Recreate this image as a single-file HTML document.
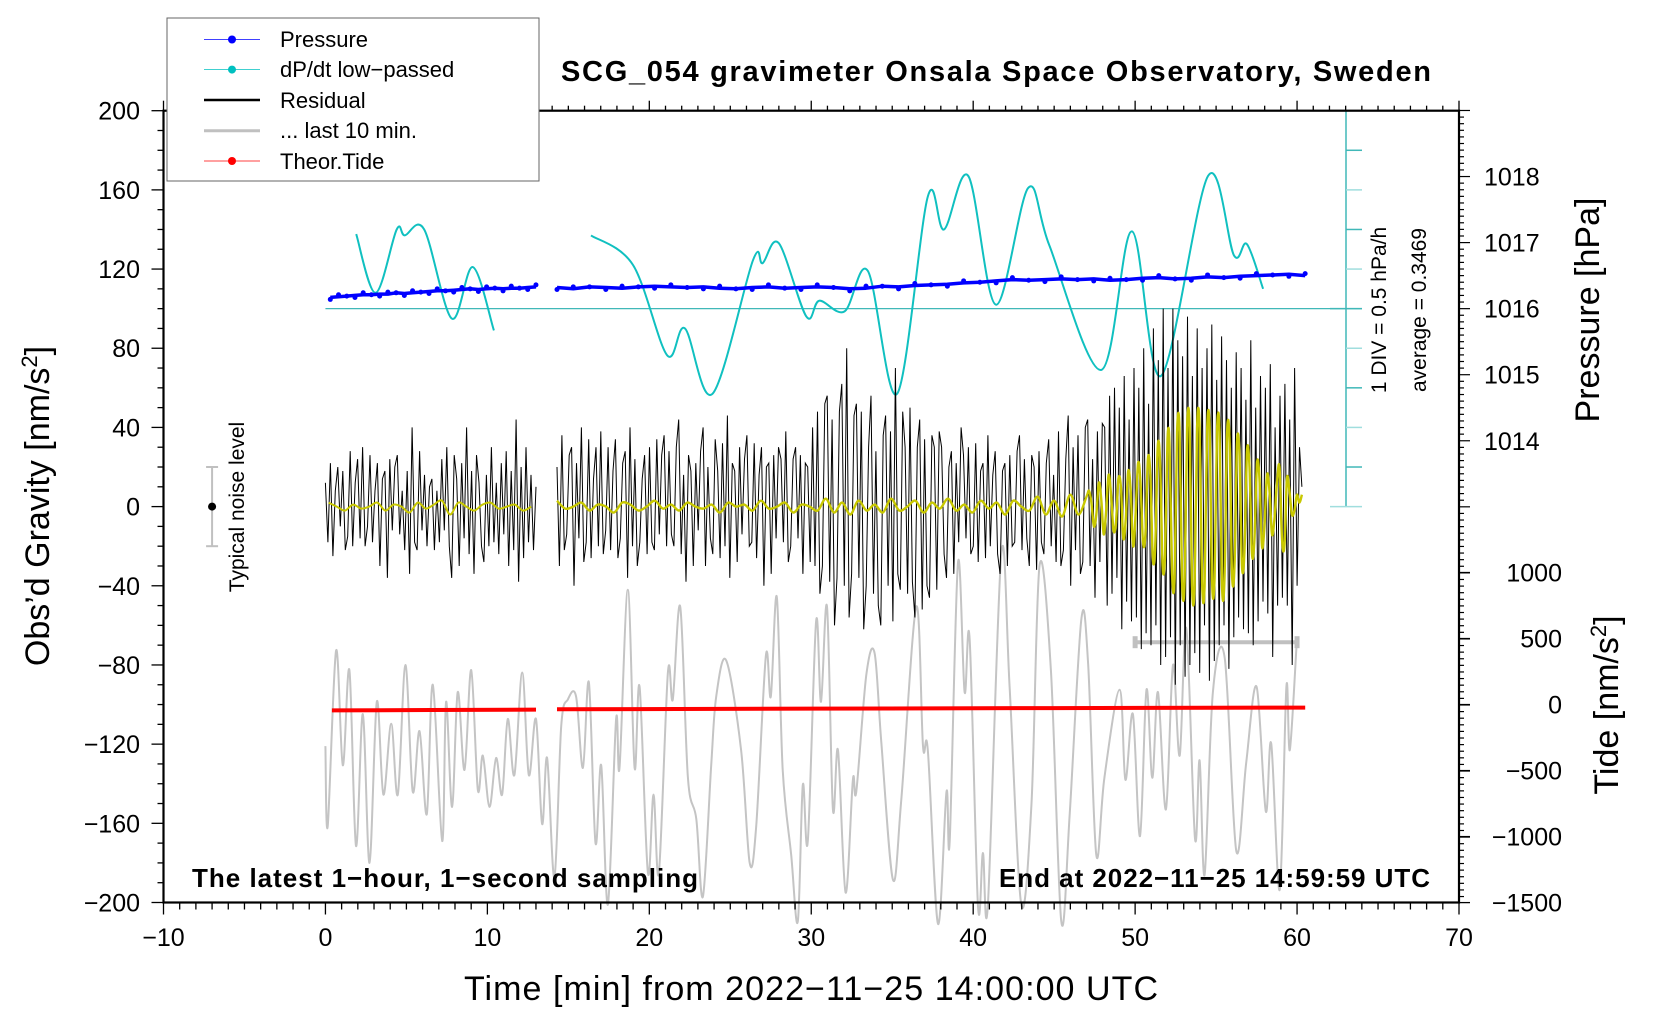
<!DOCTYPE html>
<html><head><meta charset="utf-8"><title>SCG_054 gravimeter</title>
<style>html,body{margin:0;padding:0;background:#fff}svg{display:block;font-family:"Liberation Sans",Arial,sans-serif}</style>
</head><body>
<svg id="chart" xmlns="http://www.w3.org/2000/svg" width="1660" height="1020" viewBox="0 0 1660 1020">
<rect width="1660" height="1020" fill="#fff"/>
<g id="marks"></g>
<g id="axes"></g>
<g id="texts">
<text x="996" y="81" font-size="29" font-weight="bold" text-anchor="middle" textLength="870">SCG_054 gravimeter Onsala Space Observatory, Sweden</text>
<text x="192" y="887" font-size="26" font-weight="bold" textLength="506">The latest 1−hour, 1−second sampling</text>
<text x="1430" y="887" font-size="26" font-weight="bold" text-anchor="end" textLength="431">End at 2022−11−25 14:59:59 UTC</text>
<text x="811" y="1000" font-size="34" text-anchor="middle" textLength="694">Time [min] from 2022−11−25 14:00:00 UTC</text>
<text transform="translate(49,506) rotate(-90)" font-size="34" text-anchor="middle">Obs’d Gravity [nm/s<tspan dy="-12" font-size="22">2</tspan><tspan dy="12">]</tspan></text>
<text transform="translate(1599,310) rotate(-90)" font-size="34" text-anchor="middle">Pressure [hPa]</text>
<text transform="translate(1618,705) rotate(-90)" font-size="34" text-anchor="middle">Tide [nm/s<tspan dy="-12" font-size="22">2</tspan><tspan dy="12">]</tspan></text>
<text transform="translate(1386,310) rotate(-90)" font-size="21" text-anchor="middle">1 DIV = 0.5 hPa/h</text>
<text transform="translate(1426,310) rotate(-90)" font-size="21" text-anchor="middle">average = 0.3469</text>
<text transform="translate(244,507) rotate(-90)" font-size="21" text-anchor="middle">Typical noise level</text>
</g>
<g id="legend">
<rect x="167" y="18" width="372" height="163" fill="#fff" stroke="#666" stroke-width="1"/>
<g><line x1="204" y1="39.5" x2="260" y2="39.5" stroke="#00f" stroke-width="0.8"/><circle cx="232" cy="39.5" r="4" fill="#00f"/><text x="280" y="47" font-size="22">Pressure</text></g>
<g><line x1="204" y1="69.6" x2="260" y2="69.6" stroke="#00c0c0" stroke-width="0.8"/><circle cx="232" cy="69.6" r="4" fill="#00c0c0"/><text x="280" y="77" font-size="22">dP/dt low−passed</text></g>
<g><line x1="204" y1="100" x2="260" y2="100" stroke="#000" stroke-width="2.5"/><text x="280" y="108" font-size="22">Residual</text></g>
<g><line x1="204" y1="130.8" x2="260" y2="130.8" stroke="#c0c0c0" stroke-width="3"/><text x="280" y="138" font-size="22">... last 10 min.</text></g>
<g><line x1="204" y1="161" x2="260" y2="161" stroke="#f00" stroke-width="0.8"/><circle cx="232" cy="161" r="4" fill="#f00"/><text x="280" y="169" font-size="22">Theor.Tide</text></g>
</g>
</svg>
<script>
// ---- data ----
const xTicks = [-10,0,10,20,30,40,50,60,70];
const yTicks = [200,160,120,80,40,0,-40,-80,-120,-160,-200];
const yTickLabels = ["200","160","120","80","40","0","−40","−80","−120","−160","−200"];
const pTicks = [1014,1015,1016,1017,1018];
const tideTicks = [1000,500,0,-500,-1000,-1500];
const tideTickLabels = ["1000","500","0","−500","−1000","−1500"];
const dpAverage = 0.3469;
const dpDiv = 0.5;
const dp1T = [1.9,3.1,4.4,4.9,6.1,7.8,9.1,10.4];
const dp1V = [1.289,0.547,1.347,1.272,1.347,0.222,0.872,0.072];
const dp2T = [16.4,19.0,21.1,22.2,23.9,26.4,27.0,28.0,29.7,30.5,32.06,33.5,35.3,37.2,38.2,39.7,41.4,43.4,44.7,47.9,49.8,51.6,54.5,56.1,56.9,57.9];
const dp2V = [1.272,0.897,-0.241,0.097,-0.728,0.959,0.922,1.172,0.247,0.447,0.312,0.822,-0.728,1.762,1.347,2.022,0.397,1.872,1.147,-0.428,1.322,-0.503,2.022,1.022,1.162,0.597];
const p1Start = 0.3, p1End = 13.0;
const p1V = [1016.17,1016.18,1016.19,1016.20,1016.21,1016.21,1016.22,1016.22,1016.24,1016.23,1016.24,1016.25,1016.26,1016.27,1016.27,1016.28,1016.29,1016.30,1016.29,1016.30,1016.31,1016.30,1016.31,1016.31,1016.32,1016.33];
const p2Start = 14.3, p2End = 60.5;
const p2V = [1016.32,1016.30,1016.33,1016.32,1016.31,1016.33,1016.34,1016.33,1016.32,1016.33,1016.31,1016.30,1016.32,1016.33,1016.31,1016.32,1016.33,1016.32,1016.30,1016.31,1016.34,1016.33,1016.35,1016.36,1016.37,1016.39,1016.40,1016.42,1016.44,1016.43,1016.44,1016.45,1016.44,1016.45,1016.43,1016.44,1016.46,1016.47,1016.45,1016.46,1016.48,1016.47,1016.49,1016.50,1016.51,1016.52,1016.50];
const r1Start = 0.0, r1End = 13.0;
const r1V = [12,-18,22,-25,8,20,-10,18,-22,-15,28,-20,12,24,-16,30,-20,-10,26,-18,8,22,-30,14,18,-36,24,-12,20,26,-14,8,-22,18,-34,40,-18,-22,28,-12,16,-20,10,14,-22,8,-18,24,-12,30,-20,-36,26,14,-30,22,-16,40,-24,18,-34,26,12,-20,-28,16,-20,30,-18,12,-24,22,-14,28,-30,18,-22,44,-38,20,-26,30,-18,16,-22,10];
const r2Start = 14.3, r2End = 60.3;
const r2V = [20,-30,36,-22,-14,26,30,-40,22,-16,40,-28,-18,34,-26,14,30,-20,38,-24,-12,30,-22,18,34,-26,-16,22,28,-36,40,-20,24,-30,-18,14,26,-24,
30,-18,-22,34,-14,26,36,-20,28,-14,-20,30,44,-24,16,-38,26,18,-30,22,-12,28,40,-30,20,-16,-24,34,18,-26,32,-20,46,-36,22,18,-28,30,-14,24,36,-20,-18,32,-26,16,30,-40,20,22,-34,26,-16,30,24,-18,38,-28,-20,24,30,-16,26,-34,22,20,-28,
40,-30,48,-44,-30,52,56,-38,44,-60,-36,48,62,-40,80,-56,-34,46,52,-36,48,-62,-40,30,56,-44,28,-50,-60,36,46,-40,38,-58,70,-34,-42,48,30,-44,50,-38,-56,30,44,-52,34,-40,-46,36,30,-42,38,
30,-24,-36,20,28,-34,22,-18,40,26,-16,30,-24,-20,32,-28,18,22,-26,36,-20,16,28,-24,-34,18,22,-30,26,-20,-18,28,36,-22,24,-16,-30,26,20,-32,28,-18,-24,22,34,-20,16,-28,38,-30,-22,24,46,-40,30,-22,36,-34,-28,40,44,-30,24,-46,38,-28,42,
40,-50,56,-44,60,-36,50,-62,66,-48,44,-58,70,-56,60,-72,80,-64,52,-70,90,-60,74,-80,100,-76,70,-66,100,-90,84,-70,76,-86,96,-80,66,-74,90,-84,70,-60,80,-88,92,-78,64,-70,86,-60,74,-82,60,-66,78,-56,70,-62,54,-64,84,-70,50,-58,66,-48,60,-54,72,-76,40,-50,56,-46,62,-50,44,-80,70,-40,30,10];
const y1Start = 0.2, y1End = 12.7;
const y1V = [2,0,-2,1,-1,0,2,-2,1,0,-3,2,-1,1,3,-4,2,0,-2,1,2,-1,0,1,-2,0];
const y2Start = 14.3, y2End = 47.0;
const y2V = [3,-1,0,2,-2,1,0,-3,2,1,-2,0,3,-1,1,-2,2,0,-1,1,-3,2,0,1,-2,3,-1,0,2,-3,1,0,-2,4,-3,2,-4,3,-2,1,-3,4,-2,0,3,-3,2,-1,4,-2,1,-3,3,-1,2,-4,3,0,-2,5,-4,3,-5,6,-4,5];
const y3Start = 47.15, y3End = 52.0;
const y3V = [8,2,-10,-4,12,4,-14,-2,16,6,-12,-8,14,10,-16,-6,18,8,-20,-4,22,12,-18,-14,24,16,-26,-20,30,22,-30,-24,34];
const y4Start = 52.13, y4End = 60.3;
const y4V = [30,-34,-36,38,38,-38,-38,40,40,-40,-40,40,40,-38,-40,38,40,-38,-36,38,38,-40,-36,36,34,-34,-30,32,26,-30,-22,28,20,-24,-16,22,14,-20,-10,16,8,-14,-6,12,20,-16,-20,14,8,-4,-2,6,2,6];
const gT = [0,0.14,0.66,1.07,1.48,1.89,2.31,2.72,3.17,3.58,4.06,4.47,4.94,5.39,5.81,6.26,6.63,7.21,7.45,7.82,8.17,8.59,9.0,9.41,9.72,10.13,10.54,10.91,11.26,11.67,12.15,12.56,13.0,13.38,13.69,14.14,14.56,14.97,15.48,15.9,16.27,16.68,17.03,17.44,17.95,18.16,18.67,19.09,19.4,19.91,20.26,20.59,21.15,21.45,21.91,22.38,22.9,23.31,23.82,24.13,24.75,25.67,26.2,26.6,27.2,27.5,27.87,28.24,28.76,29.17,29.48,29.79,30.3,30.6,30.97,31.34,31.65,32.12,32.57,32.78,33.4,33.91,34.33,35.05,35.56,36.49,36.9,37.2,37.83,38.35,38.55,39.06,39.47,39.78,40.3,40.6,40.91,41.74,42.25,42.97,43.6,44.1,44.8,45.44,45.96,46.68,47.1,47.6,48.1,49.04,49.4,49.86,50.3,50.7,51.06,51.41,51.9,52.34,52.75,53.16,53.7,53.98,54.29,54.8,55.53,56.25,56.86,57.5,58.07,58.4,58.93,59.34,59.55,59.96];
const gV = [-121,-161.5,-72.7,-130.7,-82.6,-171.4,-104.8,-180,-98.6,-145.5,-109.7,-145.5,-80,-144,-113.4,-155.4,-90,-169,-98.6,-151.7,-93.7,-133,-82.6,-143,-125.8,-151.7,-127,-145.5,-107.3,-135.6,-83.8,-135.6,-107.3,-160.3,-127,-187.4,-111,-97.4,-96,-132,-88.8,-170,-130.7,-201,-107.3,-132,-42,-132,-91,-185,-145.5,-185,-83.8,-97.4,-50.5,-136.8,-157.8,-197,-130.7,-96,-77.7,-123,-180,-161.5,-75.2,-96,-45.6,-133,-176,-209.6,-140.6,-169,-58,-98.6,-50.5,-152.9,-123,-195,-138,-144,-85,-74,-119.6,-188.6,-148,-50.5,-121,-123,-210.8,-144,-169,-28.3,-93.7,-66.6,-202,-175,-201,-23.4,-91,-201,-150,-29.6,-82.6,-209.6,-155.4,-56.7,-80,-176,-137,-92.5,-138,-104.8,-166.5,-92.5,-137,-93.7,-153,-80,-125.8,-61.6,-167.7,-128.2,-186,-93.7,-76.4,-174,-129.4,-91,-154,-119.6,-193.6,-91,-123,-71.5];
const tide1T = [0.4,6.5,13.0];
const tide1V = [-44,-41,-38];
const tide2T = [14.3,30,45,60.5];
const tide2V = [-36,-31,-27,-23];
const last10Span = [50,60];
const last10Level = -68.5;
const noiseBar = [-20,20];
const noiseX = -7;

const X0 = 163.5, X1 = 1459, T0 = -10, T1 = 70;
const Y0 = 110.7, Y1 = 902.5, G0 = 200, G1 = -200;
const xs = t => X0 + (t - T0) * (X1 - X0) / (T1 - T0);
const ys = g => Y0 + (G0 - g) * (Y1 - Y0) / (G0 - G1);
const pY = p => ys(100 + (p - 1016) * 33.37);
const tideY = v => ys(-100 + v * 0.0667);
const dpY = v => ys(100 + (v - dpAverage) / dpDiv * 20);
const NS = "http://www.w3.org/2000/svg";
const marks = document.getElementById('marks');
const axes = document.getElementById('axes');
function mk(tag, parent, attrs){ const e=document.createElementNS(NS,tag); for(const k in attrs) e.setAttribute(k,attrs[k]); parent.appendChild(e); return e; }
function even(a,b,n){ const r=[]; for(let i=0;i<n;i++) r.push(a+(b-a)*i/(n-1)); return r; }
function lin(ts, vs, fy){ return ts.map((t,i)=>(i?'L':'M')+xs(t).toFixed(1)+','+fy(vs[i]).toFixed(1)).join(''); }
function smooth(ts, vs, fy){
  const P = ts.map((t,i)=>[xs(t), fy(vs[i])]);
  let d = 'M'+P[0][0].toFixed(1)+','+P[0][1].toFixed(1);
  for(let i=0;i<P.length-1;i++){
    const p0=P[Math.max(0,i-1)], p1=P[i], p2=P[i+1], p3=P[Math.min(P.length-1,i+2)];
    const c1=[p1[0]+(p2[0]-p0[0])/6, p1[1]+(p2[1]-p0[1])/6];
    const c2=[p2[0]-(p3[0]-p1[0])/6, p2[1]-(p3[1]-p1[1])/6];
    d+='C'+c1[0].toFixed(1)+','+c1[1].toFixed(1)+' '+c2[0].toFixed(1)+','+c2[1].toFixed(1)+' '+p2[0].toFixed(1)+','+p2[1].toFixed(1);
  }
  return d;
}

const dpAxisX = 1346;
let e;
e = mk('line', marks, {x1:xs(0), y1:dpY(dpAverage), x2:dpAxisX+16, y2:dpY(dpAverage), stroke:'#40b8b8', 'stroke-width':1.2});


e = mk('line', marks, {x1:dpAxisX, y1:dpY(dpAverage+5*dpDiv), x2:dpAxisX, y2:dpY(dpAverage-5*dpDiv), stroke:'#40b8b8', 'stroke-width':1.5});


for(let k=-5;k<=5;k++){
  const big = (k===-5||k===5||k===0);
  e = mk('line', marks, {x1: big?dpAxisX-16:dpAxisX, y1:dpY(dpAverage+k*dpDiv), x2:dpAxisX+16, y2:dpY(dpAverage+k*dpDiv), stroke: (k%2===0)?'#40b8b8':'#a0dede', 'stroke-width':1.5});
  
  
}

e = mk('path', marks, {d:smooth(dp1T,dp1V,dpY), fill:'none', stroke:'#10c0c0', 'stroke-width':2});


e = mk('path', marks, {d:smooth(dp2T,dp2V,dpY), fill:'none', stroke:'#10c0c0', 'stroke-width':2});



[[p1Start,p1End,p1V],[p2Start,p2End,p2V]].forEach((s,si)=>{
  const ts = even(s[0],s[1],s[2].length);
  e = mk('path', marks, {d:lin(ts,s[2],pY), fill:'none', stroke:'#0000ff', 'stroke-width':3.5, 'stroke-linejoin':'round'});
  
  
  ts.forEach((t,i)=>{
    e = mk('circle', marks, {cx:xs(t), cy:pY(s[2][i])+(i%3===0?2:(i%3===1?-2:0)), r:2.5, fill:'#0000ff'});
    
    
  });
});

e = mk('path', marks, {d:smooth(gT,gV,ys), fill:'none', stroke:'#c4c4c4', 'stroke-width':2});



e = mk('path', marks, {d:lin(tide1T,tide1V,tideY), fill:'none', stroke:'#ff0000', 'stroke-width':4});


e = mk('path', marks, {d:lin(tide2T,tide2V,tideY), fill:'none', stroke:'#ff0000', 'stroke-width':4});



e = mk('line', marks, {x1:xs(last10Span[0]), y1:ys(last10Level), x2:xs(last10Span[1]), y2:ys(last10Level), stroke:'#c0c0c0', 'stroke-width':4});


last10Span.forEach(t=>{
  e = mk('line', marks, {x1:xs(t), y1:ys(last10Level)-6, x2:xs(t), y2:ys(last10Level)+6, stroke:'#c0c0c0', 'stroke-width':5});
  
  
});

e = mk('path', marks, {d:lin(even(r1Start,r1End,r1V.length),r1V,ys), fill:'none', stroke:'#000', 'stroke-width':1});


e = mk('path', marks, {d:lin(even(r2Start,r2End,r2V.length),r2V,ys), fill:'none', stroke:'#000', 'stroke-width':1});



e = mk('path', marks, {d:smooth(even(y1Start,y1End,y1V.length),y1V,ys), fill:'none', stroke:'#c8c800', 'stroke-width':2});


const yT = even(y2Start,y2End,y2V.length).concat(even(y3Start,y3End,y3V.length), even(y4Start,y4End,y4V.length));
const yV = y2V.concat(y3V, y4V);
e = mk('path', marks, {d:smooth(yT,yV,ys), fill:'none', stroke:'#c8c800', 'stroke-width':2.4});



e = mk('line', marks, {x1:xs(noiseX), y1:ys(noiseBar[0]), x2:xs(noiseX), y2:ys(noiseBar[1]), stroke:'#c0c0c0', 'stroke-width':2});


noiseBar.forEach(v=>{
  e = mk('line', marks, {x1:xs(noiseX)-6, y1:ys(v), x2:xs(noiseX)+6, y2:ys(v), stroke:'#c0c0c0', 'stroke-width':2});
  
  
});
e = mk('circle', marks, {cx:xs(noiseX), cy:ys(0), r:4, fill:'#000'});



e = mk('rect', axes, {x:X0, y:Y0, width:X1-X0, height:Y1-Y0, fill:'none', stroke:'#000', 'stroke-width':2.2});


for(let t=T0;t<=T1;t++){
  const major = (t%10===0);
  e = mk('line', axes, {x1:xs(t), y1:Y1, x2:xs(t), y2:Y1+(major?12:7), stroke:'#000', 'stroke-width':1.3});
  
  
  e = mk('line', axes, {x1:xs(t), y1:Y0, x2:xs(t), y2:Y0-(major?10:5), stroke:'#000', 'stroke-width':1.3});
  
  
}
xTicks.forEach(t=>{
  e = mk('text', axes, {x:xs(t), y:946, 'font-size':25, 'text-anchor':'middle'});
  e.textContent = (t<0?'−':'')+Math.abs(t);
  
  
});
for(let g=-200; g<=200; g+=10){
  const major = (g%40===0);
  e = mk('line', axes, {x1:X0-(major?12:6), y1:ys(g), x2:X0, y2:ys(g), stroke:'#000', 'stroke-width':1.3});
  
  
}
yTicks.forEach((g,i)=>{
  e = mk('text', axes, {x:140, y:ys(g)+9, 'font-size':25, 'text-anchor':'end'});
  e.textContent = yTickLabels[i];
  
  
});
for(let k=10070; k<=10190; k++){
  const p = k/10; const y = pY(p);
  if(y<Y0-0.5||y>Y1+0.5) continue;
  const major = (k%10===0);
  e = mk('line', axes, {x1:X1, y1:y, x2:X1+(major?11:5), y2:y, stroke:'#000', 'stroke-width':1.2});
  
  
}
pTicks.forEach(p=>{
  e = mk('text', axes, {x:1484, y:pY(p)+9, 'font-size':25});
  e.textContent = String(p);
  
  
});
tideTicks.forEach((v,i)=>{
  e = mk('line', axes, {x1:X1, y1:tideY(v), x2:X1+11, y2:tideY(v), stroke:'#000', 'stroke-width':1.3});
  
  
  e = mk('text', axes, {x:1562, y:tideY(v)+9, 'font-size':25, 'text-anchor':'end'});
  e.textContent = tideTickLabels[i];
  
  
});
</script>
</body></html>
